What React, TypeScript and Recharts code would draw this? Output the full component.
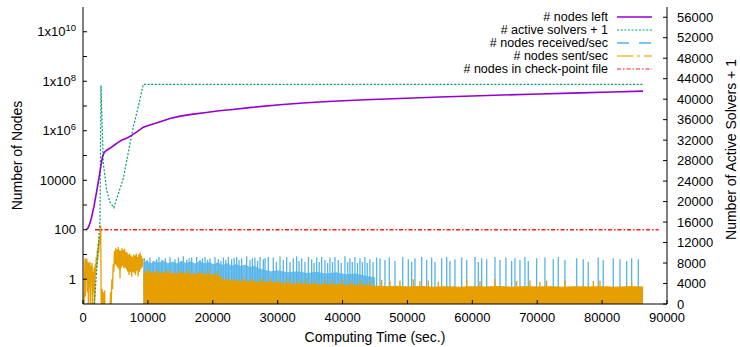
import React from "react";
import { ComposedChart, Line, Area, XAxis, YAxis } from "recharts";

const FONT = "'Liberation Sans', Arial, Helvetica, sans-serif";
const PURPLE = "#9400d3";
const GREEN = "#009e73";
const BLUE = "#56b4e9";
const ORANGE = "#e69f00";
const RED = "#ff1a1a";

// [time (sec.), value] pairs
const nodesLeft: [number, number][] = [
  [450, 100], [700, 110], [950, 150], [1300, 300], [1700, 900], [2100, 3500],
  [2500, 14000], [2770, 40000], [3000, 90000], [3250, 130000], [3600, 160000],
  [4200, 200000], [4800, 260000], [5400, 340000], [6000, 420000], [6700, 500000],
  [7500, 650000], [8300, 900000], [9300, 1400000], [10300, 1700000], [11900, 2300000],
  [13400, 3100000], [15000, 3900000], [17000, 4700000], [19000, 5500000],
  [21000, 6400000], [23100, 7200000], [26000, 8800000], [30800, 11500000],
  [34500, 13500000], [38500, 15500000], [43500, 17800000], [48800, 20000000],
  [55000, 23000000], [61200, 26000000], [69000, 30000000], [76600, 34000000],
  [81500, 37000000], [86300, 40000000],
];

const activeSolvers: [number, number][] = [
  [0, 1], [1700, 1], [1850, 1760], [2620, 16400], [2770, 42700], [3130, 27500],
  [3650, 22200], [4160, 19900], [4750, 18800], [6200, 24500], [7750, 34600],
  [8520, 38500], [9290, 42900], [86300, 42900],
];

const checkpointNodes: [number, number][] = [[1850, 100], [88700, 100]];

const sentEarly: [number, number][] = [
  [150, 0.05], [300, 7], [380, 0.2], [450, 6], [520, 1], [600, 7], [680, 0.3], [760, 5],
  [840, 0.05], [920, 4.5], [1000, 0.5], [1080, 5], [1160, 0.05], [1240, 3.5], [1320, 0.8],
  [1400, 4.5], [1480, 0.05], [1560, 2], [1640, 0.3], [1720, 3], [1800, 0.1], [1880, 4],
  [1960, 1.5], [2040, 8], [2120, 3], [2200, 15], [2280, 6], [2360, 30], [2440, 12],
  [2520, 55], [2600, 25], [2680, 110], [2740, 150], [2800, 0.05], [2900, 0.05],
  [2950, 0.4], [3050, 0.05], [3150, 0.3], [3250, 0.05], [3350, 0.35], [3400, 0.05],
  [4150, 0.05], [4250, 0.3], [4350, 0.1], [4450, 1], [4550, 0.4], [4650, 4], [4750, 2],
  [4850, 14], [4950, 4], [5050, 18], [5150, 3.5], [5250, 16], [5350, 3], [5450, 20],
  [5550, 2.5], [5650, 15], [5700, 1.1], [5800, 14], [5900, 3], [6000, 18], [6100, 3.5],
  [6200, 15], [6300, 2.8], [6400, 17], [6500, 3], [6600, 13], [6700, 2.5], [6800, 12],
  [6900, 2], [7000, 10], [7100, 1.5], [7200, 11], [7300, 2], [7400, 9], [7500, 1.3],
  [7600, 8], [7700, 2], [7800, 10], [7900, 1.8], [8000, 9], [8100, 1.5], [8200, 11],
  [8300, 2.2], [8400, 8], [8500, 1.3], [8600, 10], [8700, 2], [8800, 12], [8900, 2.5],
  [9000, 9], [9100, 3], [9250, 7],
];

// top edge of the dense orange band
const sentBand: [number, number][] = [
  [9300, 2.2], [9700, 1.8], [10200, 2.1], [10700, 1.7], [11200, 2], [11700, 1.6],
  [12200, 1.9], [12700, 1.7], [13200, 2], [13700, 1.6], [14200, 1.8], [14700, 1.5],
  [15200, 1.9], [15700, 1.6], [16200, 1.8], [16700, 1.5], [17200, 1.7], [17700, 1.45],
  [18200, 1.75], [18700, 1.5], [19200, 1.6], [19700, 1.4], [20200, 1.6], [20700, 1.35],
  [21200, 1.3], [21500, 0.9], [22000, 0.85], [22600, 0.95], [23200, 0.8], [23800, 0.9],
  [24400, 0.78], [25000, 0.88], [25600, 0.76], [26200, 0.85], [26800, 0.75], [27400, 0.82],
  [28000, 0.72], [28600, 0.8], [29200, 0.7], [29800, 0.75], [30500, 0.65], [31500, 0.7],
  [32500, 0.62], [33500, 0.67], [34500, 0.6], [35500, 0.65], [36500, 0.58], [37500, 0.63],
  [38500, 0.57], [39500, 0.62], [40500, 0.56], [41500, 0.6], [42500, 0.55], [43500, 0.58],
  [44500, 0.53], [45500, 0.52], [47000, 0.5], [48500, 0.52], [50000, 0.49], [52000, 0.51],
  [54000, 0.48], [56000, 0.5], [58000, 0.48], [60000, 0.5], [62000, 0.49], [64000, 0.51],
  [66000, 0.48], [68000, 0.5], [70000, 0.49], [72000, 0.5], [74000, 0.48], [76000, 0.5],
  [78000, 0.49], [80000, 0.5], [82000, 0.48], [84000, 0.5], [86300, 0.49],
];

// top edge of the dense blue band
const recvBand: [number, number][] = [
  [9300, 4.8], [9800, 5.6], [10400, 4.3], [11000, 5.3], [11700, 4.6], [12400, 5.7],
  [13100, 4.4], [13800, 5.2], [14500, 4.3], [15200, 5.5], [15900, 4.5], [16600, 5.2],
  [17300, 4.3], [18000, 5.4], [18700, 4.4], [19400, 5], [20100, 4.1], [20800, 4.7],
  [21500, 3.8], [22200, 4.4], [22900, 3.6], [23600, 4.1], [24300, 3.4], [25000, 3.9],
  [25700, 3.1], [26400, 3.5], [27100, 2.7], [28000, 2.4], [29000, 2.1], [30000, 2.3],
  [31500, 1.9], [33000, 2.1], [34500, 1.8], [36000, 2], [37500, 1.7], [39000, 1.9],
  [40500, 1.6], [42000, 1.7], [43500, 1.4], [45000, 1.2],
];

// single tall spikes [time, peak]
const recvSpikes: [number, number][] = [
  [9450, 7], [9900, 6], [10320, 7.5], [10800, 5.5], [11350, 6.5], [11700, 8], [12120, 6],
  [12700, 7], [13400, 8], [14180, 6.5], [14690, 7.5], [15100, 5.5], [15460, 8.5],
  [15980, 6], [16350, 7], [16750, 7.5], [17520, 8], [18030, 6], [18400, 7], [18800, 8],
  [19200, 6], [19570, 7], [20340, 8], [20860, 6.5], [21250, 5.5], [21630, 7.5], [22000, 6],
  [22400, 8], [22910, 6.5], [23300, 7], [23680, 8], [24050, 6], [24450, 7], [25220, 8.5],
  [25730, 6], [26100, 7], [26500, 7.5], [26900, 5.5], [27280, 8], [27790, 6.5], [28050, 7],
  [28560, 8], [29330, 7.5], [29800, 5], [30360, 8.5], [30870, 6], [31390, 8], [31900, 5],
  [32410, 7], [32930, 8.5], [33300, 5.5], [33700, 7], [34200, 5], [34730, 8], [35240, 6.5],
  [35600, 4.5], [36010, 7.5], [36400, 5], [36780, 8], [37290, 6], [37700, 4.5], [38060, 7.5],
  [38450, 5], [38830, 8], [39340, 6], [39800, 4.5], [40370, 8.5], [40800, 5], [41140, 7],
  [41500, 5], [41910, 8], [42300, 4.5], [42680, 7], [43050, 5], [43450, 8], [43800, 4.5],
  [44220, 6.5], [44700, 5], [45250, 7.5], [45770, 7], [46540, 6], [47200, 7.5], [48080, 5.5],
  [49270, 8], [50130, 6.5], [50650, 5], [51160, 7], [52190, 8], [52960, 6], [53730, 7.5],
  [54240, 5], [55270, 7], [56050, 8], [56550, 5.5], [57320, 6.5], [58360, 7.5], [59130, 6],
  [60410, 8], [60920, 5], [61440, 7], [62210, 6.5], [63490, 8], [64260, 6], [65180, 7.5],
  [66060, 5.5], [66570, 7], [67340, 6], [68110, 8], [68620, 5.5], [69910, 7], [71190, 7.5],
  [72470, 6.5], [73240, 8], [74270, 6], [76080, 7], [77090, 6.5], [77860, 5], [79400, 7.5],
  [80170, 6], [81720, 7], [82750, 6.5], [83780, 5.5], [84550, 7], [85570, 6.5],
];

const sentSpikes: [number, number][] = [
  [10000, 2.4], [11500, 2.3], [13000, 2.5], [14800, 2.2], [16200, 2.4], [17800, 2.1],
  [19300, 2.3], [20600, 2], [22000, 1.2], [23200, 1.1], [24800, 1.25], [26000, 1.1],
  [27600, 1.2], [29000, 1.15], [30200, 1], [31600, 1.1], [33000, 0.95], [34400, 1.05],
  [35800, 0.9], [37200, 1], [38600, 0.95], [40000, 1.05], [41400, 0.9], [42800, 1],
  [44200, 0.85], [46030, 0.95], [47310, 0.85], [48850, 0.9], [50900, 1], [51930, 0.85],
  [53210, 0.9], [54750, 0.8], [59130, 0.95], [61180, 0.85], [63490, 1], [66830, 0.85],
  [68880, 0.9], [70420, 0.8], [71450, 0.9], [74270, 0.95], [78640, 0.85], [79670, 0.9],
  [84550, 0.8],
];
// spikes rise from inside the orange band
const SPIKE_FLOOR = 0.3;

const xTicks = [0, 10000, 20000, 30000, 40000, 50000, 60000, 70000, 80000, 90000];
const decadeTicks = [1, 10, 100, 1000, 10000, 1e5, 1e6, 1e7, 1e8, 1e9, 1e10];
const solverTicks = [
  0, 4000, 8000, 12000, 16000, 20000, 24000, 28000, 32000, 36000, 40000, 44000, 48000,
  52000, 56000,
];

const legendItems = [
  { label: "# nodes left", color: PURPLE, width: 1.6, dash: undefined, opacity: 1 },
  { label: "# active solvers + 1", color: GREEN, width: 1.2, dash: "2 1.65", opacity: 1 },
  { label: "# nodes received/sec", color: BLUE, width: 1.3, dash: "12 10", opacity: 1 },
  { label: "# nodes sent/sec", color: ORANGE, width: 2, dash: "16 4 3 4", opacity: 0.55 },
  { label: "# nodes in check-point file", color: RED, width: 1.2, dash: "4 2 1.5 2", opacity: 1 },
];

const toRows = (pairs: [number, number][]) => pairs.map(([t, v]) => ({ t, v }));
const toSpikeRows = (pairs: [number, number][]) =>
  pairs.flatMap(([t, v]) => [{ t, v: SPIKE_FLOOR }, { t, v }, { t, v: SPIKE_FLOOR }]);

const tickStyle = { fill: "#000", fontSize: 13, fontFamily: FONT };
const labelStyle = { fill: "#000", fontSize: 14, fontFamily: FONT };

function LogTick(props: any) {
  const { x, y, payload } = props;
  const exp = Math.round(Math.log10(payload.value));
  if (exp % 2 !== 0) return <g />;
  if (exp < 5) {
    return (
      <text x={x} y={y} dy="0.36em" textAnchor="end" {...tickStyle}>
        {String(payload.value)}
      </text>
    );
  }
  return (
    <text x={x} y={y} dy="0.36em" textAnchor="end" {...tickStyle}>
      <tspan>1x10</tspan>
      <tspan dy={-5} fontSize={9.5}>{exp}</tspan>
    </text>
  );
}

const leftLabel = ({ viewBox }: any) => {
  const cx = viewBox.x + 17;
  const cy = viewBox.y + viewBox.height / 2;
  return (
    <text x={cx} y={cy} transform={`rotate(-90 ${cx} ${cy})`} textAnchor="middle"
      dominantBaseline="central" {...labelStyle}>
      Number of Nodes
    </text>
  );
};

const rightLabel = ({ viewBox }: any) => {
  const cx = viewBox.x + 64;
  const cy = viewBox.y + viewBox.height / 2 - 6;
  return (
    <text x={cx} y={cy} transform={`rotate(-90 ${cx} ${cy})`} textAnchor="middle"
      dominantBaseline="central" {...labelStyle}>
      Number of Active Solvers + 1
    </text>
  );
};

const xLabel = ({ viewBox }: any) => (
  <text x={viewBox.x + viewBox.width / 2} y={viewBox.y + 33} textAnchor="middle"
    dominantBaseline="central" {...labelStyle}>
    Computing Time (sec.)
  </text>
);

export default function App() {
  return (
    <div style={{ position: "absolute", left: 0, top: 0, width: 740, height: 347, background: "#fff" }}>
      <ComposedChart width={740} height={347} margin={{ top: 7, right: 0, bottom: 0, left: 0 }}>
        <XAxis xAxisId="bottom" dataKey="t" type="number" domain={[0, 90000]} ticks={xTicks}
          interval={0} allowDataOverflow height={43} tickSize={-4} tickMargin={13}
          stroke="#000" tick={tickStyle} label={xLabel} />
        <XAxis xAxisId="top" orientation="top" dataKey="t" type="number" domain={[0, 90000]}
          ticks={xTicks} interval={0} allowDataOverflow height={0} tickSize={-4} tick={false}
          stroke="#000" />
        <YAxis yAxisId="left" type="number" scale="log" domain={[0.1, 1e11]} ticks={decadeTicks}
          interval={0} allowDataOverflow width={83} tickSize={-4} tickMargin={11} stroke="#000"
          tick={LogTick} label={leftLabel} />
        <YAxis yAxisId="mirror" orientation="right" type="number" scale="log" domain={[0.1, 1e11]}
          ticks={decadeTicks} interval={0} allowDataOverflow width={0} tickSize={-4} tick={false}
          stroke="#000" />
        <YAxis yAxisId="right" orientation="right" type="number" domain={[0, 58000]}
          ticks={solverTicks} interval={0} allowDataOverflow width={73} tickSize={-4}
          tickMargin={14} stroke="#000" tick={tickStyle} label={rightLabel} />

        <Area xAxisId="bottom" yAxisId="left" data={toRows(recvBand)} dataKey="v" type="linear"
          stroke="none" fill={BLUE} fillOpacity={0.85} baseValue={0.1} zIndex={310}
          isAnimationActive={false} />
        <Line xAxisId="bottom" yAxisId="left" data={toSpikeRows(recvSpikes)} dataKey="v"
          type="linear" stroke={BLUE} strokeWidth={1.3} dot={false} zIndex={320}
          isAnimationActive={false} />
        <Area xAxisId="bottom" yAxisId="left" data={toRows(sentBand)} dataKey="v" type="linear"
          stroke={ORANGE} strokeWidth={1} fill={ORANGE} fillOpacity={1} baseValue={0.1}
          zIndex={330} isAnimationActive={false} />
        <Line xAxisId="bottom" yAxisId="left" data={toRows(sentEarly)} dataKey="v" type="linear"
          stroke={ORANGE} strokeWidth={1.3} dot={false} zIndex={340} isAnimationActive={false} />
        <Line xAxisId="bottom" yAxisId="left" data={toSpikeRows(sentSpikes)} dataKey="v"
          type="linear" stroke={ORANGE} strokeWidth={1.3} dot={false} zIndex={350}
          isAnimationActive={false} />
        <Line xAxisId="bottom" yAxisId="right" data={toRows(activeSolvers)} dataKey="v"
          type="linear" stroke={GREEN} strokeWidth={1.2} strokeDasharray="2 1.65" dot={false}
          zIndex={360} isAnimationActive={false} />
        <Line xAxisId="bottom" yAxisId="left" data={toRows(nodesLeft)} dataKey="v" type="linear"
          stroke={PURPLE} strokeWidth={1.6} dot={false} zIndex={370} isAnimationActive={false} />
        <Line xAxisId="bottom" yAxisId="left" data={toRows(checkpointNodes)} dataKey="v"
          type="linear" stroke={RED} strokeWidth={1.4} strokeDasharray="4 2 1.5 2" dot={false}
          zIndex={380} isAnimationActive={false} />
      </ComposedChart>

      <svg width={740} height={347} style={{ position: "absolute", left: 0, top: 0, pointerEvents: "none" }}>
        {legendItems.map((item, i) => {
          const y = 17 + i * 13;
          return (
            <g key={item.label}>
              <text x={608} y={y} textAnchor="end" dominantBaseline="central" fill="#000"
                fontSize={12.5} fontFamily={FONT}>
                {item.label}
              </text>
              <line x1={617} x2={652} y1={y} y2={y} stroke={item.color} strokeWidth={item.width}
                strokeDasharray={item.dash} strokeOpacity={item.opacity} />
            </g>
          );
        })}
      </svg>
    </div>
  );
}
